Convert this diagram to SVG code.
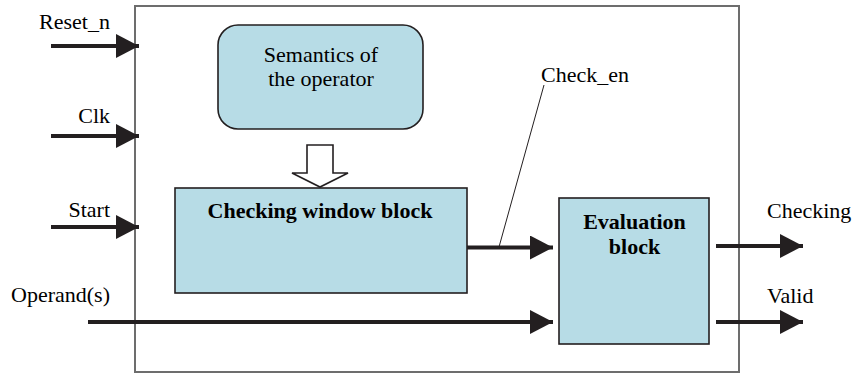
<svg xmlns="http://www.w3.org/2000/svg" width="852" height="374" viewBox="0 0 852 374">
  <defs>
    <marker id="head" markerUnits="userSpaceOnUse" markerWidth="24" markerHeight="24" refX="23" refY="12" orient="auto" viewBox="0 0 24 24">
      <path d="M0,0 L23,12 L0,24 Z" fill="#231f20"/>
    </marker>
  </defs>
  <rect width="852" height="374" fill="#ffffff"/>

  <!-- outer module frame -->
  <g id="frame">
    <rect x="135" y="6" width="604" height="366" fill="none" stroke="#6d6d6d" stroke-width="2"/>
  </g>

  <g id="semantics">
    <rect x="218" y="25" width="205" height="104" rx="20" ry="20" fill="#b7dce6" stroke="#231f20" stroke-width="1.6"/>
    <text font-family="Liberation Serif" font-size="22" x="321" y="62" text-anchor="middle">Semantics of</text>
    <text font-family="Liberation Serif" font-size="22" x="321" y="86" text-anchor="middle">the operator</text>
  </g>

  <g id="checking-window">
    <rect x="175" y="188" width="292" height="105" fill="#b7dce6" stroke="#231f20" stroke-width="1.6"/>
    <text font-family="Liberation Serif" font-size="22" font-weight="bold" x="320" y="218" text-anchor="middle">Checking window block</text>
  </g>

  <g id="evaluation">
    <rect x="559" y="198" width="150" height="146" fill="#b7dce6" stroke="#231f20" stroke-width="1.6"/>
    <text font-family="Liberation Serif" font-size="22" font-weight="bold" x="634.5" y="229" text-anchor="middle">Evaluation</text>
    <text font-family="Liberation Serif" font-size="22" font-weight="bold" x="634.5" y="254" text-anchor="middle">block</text>
  </g>

  <!-- signal labels -->
  <g id="labels">
    <text font-family="Liberation Serif" font-size="22" x="110" y="29" text-anchor="end">Reset_n</text>
    <text font-family="Liberation Serif" font-size="22" x="110" y="123" text-anchor="end">Clk</text>
    <text font-family="Liberation Serif" font-size="22" x="110" y="217" text-anchor="end">Start</text>
    <text font-family="Liberation Serif" font-size="22" x="110" y="302" text-anchor="end">Operand(s)</text>
    <text font-family="Liberation Serif" font-size="22" x="541" y="82">Check_en</text>
    <text font-family="Liberation Serif" font-size="22" x="767" y="218">Checking</text>
    <text font-family="Liberation Serif" font-size="22" x="767" y="303">Valid</text>
  </g>

  <g id="connectors" stroke="#231f20" fill="none">
    <line x1="51" y1="46" x2="139" y2="46" stroke-width="4" marker-end="url(#head)"/>
    <line x1="51" y1="136" x2="139" y2="136" stroke-width="4" marker-end="url(#head)"/>
    <line x1="51" y1="227" x2="139" y2="227" stroke-width="4" marker-end="url(#head)"/>
    <line x1="88" y1="322" x2="553" y2="322" stroke-width="4" marker-end="url(#head)"/>
    <line x1="467" y1="247.5" x2="553" y2="247.5" stroke-width="4" marker-end="url(#head)"/>
    <line x1="716" y1="246" x2="803" y2="246" stroke-width="4" marker-end="url(#head)"/>
    <line x1="716" y1="322" x2="803" y2="322" stroke-width="4" marker-end="url(#head)"/>
    <!-- Check_en label leader -->
    <line x1="544" y1="85" x2="499" y2="247" stroke-width="1"/>
    <!-- hollow arrow from semantics into checking window -->
    <path d="M307,145 L333,145 L333,173 L348,173 L320,187 L292,173 L307,173 Z" fill="#ffffff" stroke-width="1.6"/>
  </g>
</svg>
